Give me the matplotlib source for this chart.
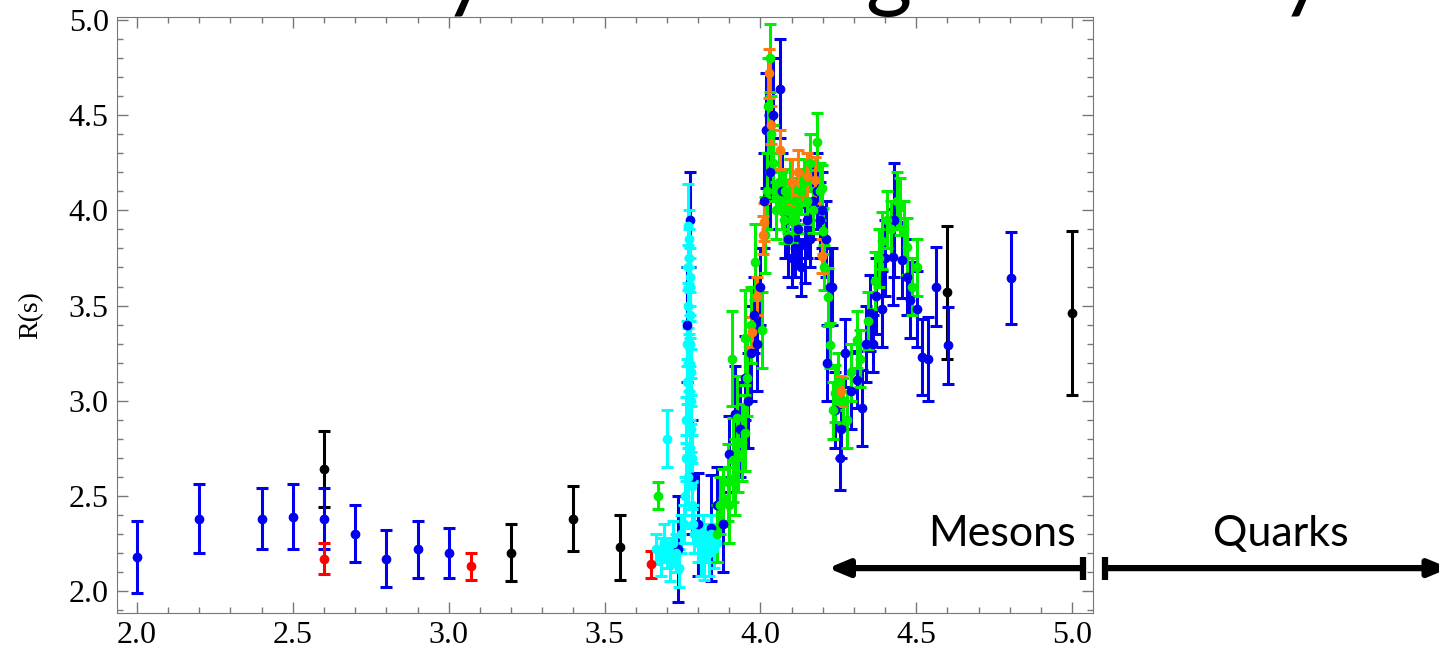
import numpy as np
import matplotlib
matplotlib.use("Agg")
import matplotlib.pyplot as plt
from matplotlib.ticker import MultipleLocator

black_x = [2.6, 3.2, 3.4, 3.55, 4.6, 5.0]
black_y = [2.64, 2.20, 2.38, 2.23, 3.57, 3.46]
black_e = [0.20, 0.15, 0.17, 0.17, 0.35, 0.43]

blue_x = [2.0, 2.2, 2.4, 2.5, 2.6, 2.7, 2.8, 2.9, 3.0,
          3.735, 3.765, 3.775, 3.78, 3.80, 3.84, 3.86,
          3.88, 3.90, 3.92, 3.935, 3.95, 3.96, 3.97, 3.98, 3.99, 4.00,
          4.01, 4.018, 4.03, 4.04, 4.063, 4.07, 4.08, 4.09, 4.10, 4.11,
          4.12, 4.13, 4.143, 4.15, 4.16, 4.17, 4.18, 4.19, 4.198, 4.21,
          4.214, 4.223, 4.23, 4.24, 4.255, 4.26, 4.271, 4.29, 4.31, 4.326,
          4.34, 4.352, 4.36, 4.37, 4.39, 4.40, 4.425, 4.43, 4.454, 4.47,
          4.48, 4.502, 4.518, 4.538, 4.563, 4.602, 4.804]
blue_y = [2.18, 2.38, 2.38, 2.39, 2.38, 2.30, 2.17, 2.22, 2.20,
          2.22, 3.40, 3.95, 2.60, 2.35, 2.33, 2.45,
          2.35, 2.72, 2.93, 2.85, 3.12, 3.00, 3.25, 3.45, 3.30, 3.60,
          4.05, 4.42, 4.20, 4.50, 4.64, 4.10, 3.95, 3.85, 3.75, 3.80,
          3.90, 3.70, 3.82, 3.95, 3.85, 4.05, 4.10, 3.95, 4.00, 3.85,
          3.20, 3.60, 3.60, 2.95, 2.70, 2.85, 3.25, 3.05, 3.11, 2.96,
          3.30, 3.46, 3.30, 3.55, 3.48, 3.75, 3.755, 3.95, 3.74, 3.65,
          3.53, 3.48, 3.23, 3.22, 3.60, 3.29, 3.645]
blue_e = [0.19, 0.18, 0.16, 0.17, 0.16, 0.15, 0.15, 0.15, 0.13,
          0.28, 0.30, 0.25, 0.30, 0.27, 0.28, 0.20,
          0.25, 0.20, 0.25, 0.25, 0.22, 0.25, 0.25, 0.20, 0.25, 0.20,
          0.25, 0.30, 0.30, 0.30, 0.26, 0.20, 0.20, 0.20, 0.15, 0.15,
          0.20, 0.15, 0.20, 0.20, 0.15, 0.20, 0.20, 0.20, 0.20, 0.20,
          0.20, 0.20, 0.20, 0.20, 0.17, 0.15, 0.18, 0.20, 0.15, 0.20,
          0.20, 0.20, 0.15, 0.20, 0.20, 0.20, 0.25, 0.30, 0.20, 0.20,
          0.20, 0.20, 0.20, 0.22, 0.21, 0.20, 0.24]

red_x = [2.6, 3.07, 3.65]
red_y = [2.17, 2.13, 2.14]
red_e = [0.08, 0.07, 0.07]

cyan_x = [3.70, 3.665, 3.68, 3.69, 3.70, 3.71, 3.72, 3.73, 3.74, 3.745,
          3.755, 3.758, 3.76, 3.762, 3.764, 3.766, 3.767, 3.768, 3.77, 3.772,
          3.773, 3.774, 3.775, 3.776, 3.777, 3.778, 3.779, 3.78, 3.782, 3.785,
          3.788, 3.77, 3.771, 3.769, 3.773, 3.775, 3.767,
          3.80, 3.81, 3.815, 3.82, 3.83, 3.835, 3.84, 3.85, 3.86]
cyan_y = [2.80, 2.22, 2.18, 2.25, 2.20, 2.15, 2.25, 2.20, 2.12, 2.30,
          2.35, 2.50, 2.70, 2.90, 3.10, 3.30, 3.50, 3.70, 3.85, 3.75,
          3.60, 3.45, 3.30, 3.15, 3.00, 2.85, 2.70, 2.55, 2.45, 2.35,
          2.30, 3.05, 3.20, 2.60, 2.75, 3.65, 3.92,
          2.25, 2.20, 2.30, 2.18, 2.25, 2.20, 2.30, 2.22, 2.25]
cyan_e = [0.15, 0.08, 0.10, 0.10, 0.08, 0.10, 0.12, 0.10, 0.10, 0.10,
          0.10, 0.10, 0.12, 0.12, 0.12, 0.12, 0.12, 0.12, 0.15, 0.15,
          0.15, 0.12, 0.12, 0.12, 0.12, 0.12, 0.12, 0.12, 0.12, 0.10,
          0.10, 0.15, 0.15, 0.15, 0.15, 0.15, 0.22,
          0.10, 0.12, 0.10, 0.12, 0.10, 0.12, 0.10, 0.10, 0.10]

green_x = [3.67, 3.86, 3.87, 3.88, 3.896, 3.90, 3.912, 3.92, 3.928, 3.925,
           3.94, 3.95, 3.909, 3.957, 3.95, 3.97, 3.983, 4.005, 4.015, 4.02,
           4.025, 4.03, 4.035, 4.04, 4.05, 4.06, 4.07, 4.075, 4.08, 4.09,
           4.095, 4.10, 4.11, 4.12, 4.13, 4.14, 4.15, 4.16, 4.17, 4.18,
           4.19, 4.198, 4.20, 4.205, 4.217, 4.223, 4.239, 4.233, 4.25, 4.278,
           4.265, 4.29, 4.31, 4.32, 4.345, 4.368, 4.38, 4.39, 4.406, 4.42,
           4.438, 4.448, 4.46, 4.47, 4.486, 4.502]
green_y = [2.50, 2.30, 2.45, 2.49, 2.57, 2.45, 2.69, 2.60, 2.72, 2.91,
           2.78, 2.83, 3.22, 3.12, 3.33, 3.40, 3.73, 3.37, 3.87, 4.10,
           4.55, 4.80, 4.40, 4.25, 4.00, 4.15, 4.05, 3.95, 4.10, 4.00,
           4.15, 3.95, 4.05, 4.00, 4.10, 4.15, 4.05, 4.25, 4.00, 4.36,
           4.10, 4.12, 3.89, 3.70, 3.545, 3.29, 3.04, 2.95, 3.10, 2.90,
           3.00, 3.15, 3.32, 3.22, 3.42, 3.63, 3.75, 3.84, 3.95, 3.90,
           4.05, 4.02, 3.90, 3.81, 3.60, 3.70]
green_e = [0.07, 0.15, 0.15, 0.15, 0.20, 0.20, 0.22, 0.20, 0.20, 0.22,
           0.20, 0.20, 0.25, 0.20, 0.25, 0.20, 0.20, 0.20, 0.20, 0.20,
           0.25, 0.18, 0.20, 0.20, 0.15, 0.15, 0.15, 0.12, 0.12, 0.12,
           0.12, 0.12, 0.12, 0.12, 0.12, 0.12, 0.12, 0.15, 0.12, 0.15,
           0.15, 0.12, 0.12, 0.12, 0.15, 0.12, 0.15, 0.15, 0.15, 0.15,
           0.12, 0.15, 0.15, 0.15, 0.15, 0.15, 0.15, 0.15, 0.15, 0.15,
           0.15, 0.15, 0.15, 0.15, 0.15, 0.15]

orange_x = [3.973, 3.99, 4.008, 4.01, 4.028, 4.035, 4.063, 4.10, 4.12, 4.15,
            4.175, 4.198, 4.26]
orange_y = [3.36, 3.55, 3.87, 3.94, 4.72, 4.45, 4.32, 4.15, 4.20, 4.18,
            4.16, 3.76, 3.05]
orange_e = [0.08, 0.10, 0.10, 0.10, 0.13, 0.10, 0.10, 0.12, 0.12, 0.12,
            0.12, 0.09, 0.08]

x_ticks = [2.0, 2.5, 3.0, 3.5, 4.0, 4.5, 5.0]
y_ticks = [2.0, 2.5, 3.0, 3.5, 4.0, 4.5, 5.0]

fig = plt.figure(figsize=(14.39, 6.52), dpi=100)
ax = fig.add_axes([0.0813, 0.0598, 0.6783, 0.914])

series = [
    (black_x, black_y, black_e, "black"),
    (blue_x, blue_y, blue_e, "#0000ee"),
    (red_x, red_y, red_e, "#ff0000"),
    (cyan_x, cyan_y, cyan_e, "#00ffff"),
    (green_x, green_y, green_e, "#00ee00"),
    (orange_x, orange_y, orange_e, "#ff7a10"),
]
for xs, ys, es, c in series:
    ax.errorbar(xs, ys, yerr=es, fmt="o", color=c, ms=6, capsize=4,
                elinewidth=2.2, capthick=2.2)

ax.set_xlim(1.936, 5.067)
ax.set_ylim(1.884, 5.016)
ax.set_xticks(x_ticks)
ax.set_yticks(y_ticks)
ax.xaxis.set_minor_locator(MultipleLocator(0.1))
ax.yaxis.set_minor_locator(MultipleLocator(0.1))
ax.tick_params(which="both", direction="in", top=True, right=True,
               color="#777777", width=1)
ax.tick_params(which="major", length=8, labelsize=23, pad=6)
ax.tick_params(which="minor", length=4)
for lab in ax.get_xticklabels() + ax.get_yticklabels():
    lab.set_family("Liberation Serif")
for s in ax.spines.values():
    s.set_color("#777777")
ax.set_ylabel("R(s)", family="Liberation Serif", fontsize=20, labelpad=18)

# Mesons / Quarks arrows below the curve
head = "-|>,head_length=1.2,head_width=0.5"
ax.annotate("", xy=(4.217, 2.12), xytext=(5.035, 2.12),
            arrowprops=dict(arrowstyle=head, lw=4.5, color="black",
                            shrinkA=0, shrinkB=0),
            annotation_clip=False)
ax.plot([5.035, 5.035], [2.06, 2.18], color="black", lw=4.5, clip_on=False,
        solid_capstyle="butt")
ax.annotate("", xy=(6.21, 2.12), xytext=(5.106, 2.12),
            arrowprops=dict(arrowstyle=head, lw=4.5, color="black",
                            shrinkA=0, shrinkB=0),
            annotation_clip=False)
ax.plot([5.106, 5.106], [2.06, 2.18], color="black", lw=4.5, clip_on=False,
        solid_capstyle="butt")
ax.text(4.775, 2.237, "Mesons", family="Lato", fontsize=31, ha="center",
        va="baseline", clip_on=False)
ax.text(5.67, 2.237, "Quarks", family="Lato", fontsize=31, ha="center",
        va="baseline", clip_on=False)

# title cut off by the top of the frame: only descenders show
for ch, fx in [("y", 465), ("g", 888), ("y", 1302)]:
    fig.text(fx / 1439, 1 - 17 / 652, ch, family="Lato", fontsize=64,
             ha="center", va="bottom")

fig.savefig("out.png", dpi=100)
